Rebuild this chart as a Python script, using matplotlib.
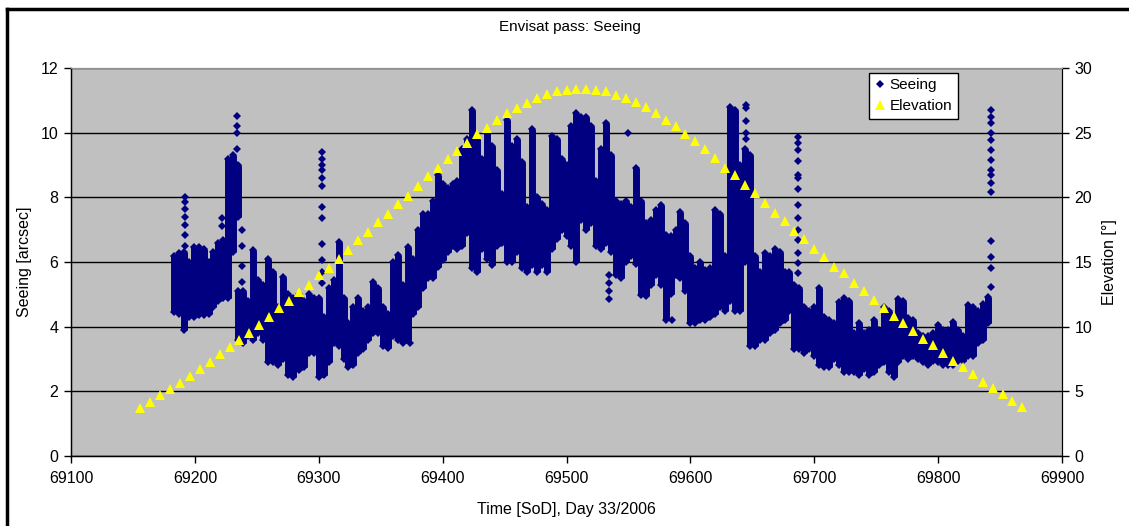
import numpy as np
import matplotlib
matplotlib.use("Agg")
import matplotlib.pyplot as plt
from matplotlib.lines import Line2D
from matplotlib.ticker import FixedLocator


# ==============================
# DATA
# ==============================

# seeing: dense vertical clusters, one (time, low, high) column per entry
seg_time = [
    69183, 69187, 69191, 69195, 69199, 69203, 69207, 69211, 69215, 69219,
    69223, 69227, 69231, 69235, 69235, 69239, 69243, 69247, 69251, 69255,
    69259, 69263, 69267, 69271, 69275, 69279, 69284, 69288, 69292, 69296,
    69300, 69304, 69308, 69312, 69316, 69320, 69324, 69328, 69332, 69336,
    69340, 69344, 69348, 69352, 69356, 69360, 69364, 69368, 69372, 69376,
    69380, 69384, 69388, 69392, 69396, 69400, 69404, 69408, 69412, 69416,
    69420, 69424, 69428, 69432, 69436, 69440, 69444, 69448, 69452, 69456,
    69460, 69464, 69468, 69472, 69476, 69480, 69484, 69488, 69492, 69496,
    69500, 69504, 69508, 69512, 69516, 69520, 69524, 69528, 69532, 69536,
    69540, 69544, 69548, 69552, 69556, 69560, 69564, 69568, 69572, 69576,
    69580, 69584, 69588, 69592, 69596, 69600, 69604, 69608, 69612, 69616,
    69620, 69624, 69628, 69632, 69636, 69640, 69644, 69648, 69652, 69656,
    69660, 69664, 69668, 69672, 69676, 69680, 69684, 69688, 69692, 69696,
    69700, 69704, 69708, 69712, 69716, 69720, 69724, 69728, 69732, 69736,
    69740, 69744, 69748, 69752, 69756, 69760, 69764, 69768, 69772, 69776,
    69780, 69784, 69788, 69792, 69796, 69800, 69804, 69808, 69812, 69816,
    69820, 69824, 69828, 69832, 69836, 69840,
]
seg_lo = [
    4.45, 4.4, 3.9, 4.3, 4.3, 4.35, 4.35, 4.4, 4.6, 4.8,
    4.9, 4.9, 6.3, 7.4, 3.6, 3.5, 3.7, 3.6, 3.8, 3.6,
    2.9, 2.9, 2.8, 3.0, 2.5, 2.45, 2.65, 2.75, 3.2, 3.2,
    2.45, 2.5, 2.9, 3.5, 3.4, 3.0, 2.75, 2.8, 3.2, 3.3,
    3.6, 3.8, 3.8, 3.4, 3.35, 3.7, 3.6, 3.5, 3.6, 4.4,
    4.6, 5.2, 5.5, 5.5, 5.85, 6.06, 6.3, 6.5, 6.4, 6.5,
    6.9, 5.8, 5.7, 6.4, 6.1, 5.9, 6.5, 6.6, 6.0, 6.0,
    6.3, 5.8, 5.7, 5.9, 5.7, 5.9, 5.7, 6.4, 6.7, 7.0,
    6.8, 6.5, 6.0, 7.3, 7.0, 7.2, 6.5, 6.4, 6.6, 6.3,
    5.6, 5.5, 6.0, 6.2, 5.95, 4.98, 4.95, 5.3, 5.6, 5.3,
    4.2, 5.0, 5.6, 5.5, 5.1, 4.1, 4.1, 4.2, 4.2, 4.3,
    4.4, 4.6, 4.5, 4.8, 4.5, 4.5, 6.0, 3.4, 3.4, 3.6,
    3.6, 3.8, 3.9, 4.1, 4.2, 4.5, 3.3, 3.3, 3.2, 3.3,
    3.1, 2.8, 2.75, 2.75, 3.0, 2.8, 2.6, 2.6, 2.6, 2.5,
    2.7, 2.5, 2.6, 2.8, 2.9, 2.6, 2.45, 2.9, 3.1, 3.0,
    3.1, 3.0, 2.9, 2.8, 2.95, 2.9, 2.8, 2.8, 2.8, 2.95,
    2.95, 3.1, 3.1, 3.5, 3.6, 4.1,
]
seg_hi = [
    6.2, 6.27, 6.3, 6.0, 6.47, 6.47, 6.4, 6.0, 6.3, 6.6,
    6.68, 9.2, 9.3, 9.0, 5.1, 5.1, 4.8, 6.37, 5.45, 5.3,
    6.1, 5.7, 4.6, 5.55, 5.0, 4.9, 5.0, 4.8, 5.0, 4.9,
    4.9, 4.3, 5.2, 5.45, 6.63, 4.9, 4.1, 4.6, 4.9, 4.5,
    4.6, 5.39, 5.2, 4.6, 4.4, 6.0, 6.22, 5.3, 6.47, 6.1,
    7.0, 7.5, 7.5, 7.9, 8.7, 8.4, 8.3, 8.4, 8.5, 9.5,
    9.8, 10.7, 9.8, 9.2, 10.0, 9.6, 8.85, 8.1, 10.4, 9.6,
    9.8, 9.1, 7.7, 10.1, 8.0, 7.8, 7.6, 9.9, 9.8, 9.2,
    9.0, 10.2, 10.6, 10.5, 10.5, 10.2, 8.5, 9.5, 10.3, 9.3,
    7.9, 7.8, 7.9, 7.7, 8.9, 7.9, 7.2, 7.3, 7.6, 7.76,
    6.85, 6.8, 7.0, 7.56, 7.2, 6.2, 5.8, 6.0, 5.75, 5.8,
    7.6, 7.5, 6.2, 10.8, 10.7, 9.0, 9.5, 9.3, 6.2, 5.7,
    6.27, 6.2, 6.39, 6.3, 5.7, 5.7, 5.3, 5.2, 4.6, 4.5,
    4.6, 5.19, 4.3, 4.2, 4.1, 4.77, 4.88, 4.8, 3.8, 4.1,
    3.8, 3.9, 4.2, 3.9, 4.6, 4.5, 4.1, 4.85, 4.8, 4.26,
    4.2, 3.8, 3.7, 3.7, 3.8, 4.05, 3.9, 3.9, 4.15, 3.9,
    3.7, 4.67, 4.6, 4.5, 4.7, 4.93,
]

# seeing: single separated diamonds (spikes)
spike_time = (
    [69192] * 7 + [69222] * 2 + [69234] * 4 + [69238] * 4 + [69303] * 12
    + [69374, 69585] + [69534] * 4 + [69550] + [69645] * 5 + [69687] * 14
    + [69843] * 15
)
spike_val = [
    8.02, 7.85, 7.65, 7.4, 7.15, 6.85, 6.5,
    7.35, 7.1,
    10.52, 10.2, 9.98, 9.5,
    7.0, 6.5, 5.88, 5.39,
    9.4, 9.2, 9.0, 8.85, 8.6, 8.35, 7.71, 7.35, 6.56, 6.07, 5.7, 5.36,
    3.49, 4.2,
    5.6, 5.35, 5.1, 4.85,
    9.98,
    10.85, 10.75, 10.35, 10.0, 9.8,
    9.88, 9.67, 9.46, 9.11, 8.69, 8.59, 8.25, 7.76, 7.35, 6.99, 6.68,
    6.29, 5.96, 5.65,
    10.7, 10.5, 10.29, 10.0, 9.77, 9.46, 9.16, 8.85, 8.69, 8.43, 8.17,
    6.65, 6.16, 5.82, 5.23,
]

# elevation: one sample every 8 s
elev_time = np.arange(69156, 69869, 8)
elev_val = [
    3.69, 4.18, 4.72, 5.16, 5.67, 6.21, 6.73, 7.29, 7.89, 8.40,
    8.97, 9.54, 10.13, 10.72, 11.42, 11.98, 12.70, 13.24, 13.97, 14.54,
    15.26, 15.93, 16.70, 17.32, 18.07, 18.73, 19.48, 20.13, 20.88, 21.63,
    22.29, 22.94, 23.61, 24.23, 24.90, 25.34, 25.98, 26.50, 26.93, 27.32,
    27.68, 27.97, 28.22, 28.32, 28.38, 28.38, 28.30, 28.20, 27.94, 27.70,
    27.39, 26.98, 26.50, 25.98, 25.52, 24.90, 24.33, 23.71, 23.02, 22.27,
    21.71, 20.93, 20.31, 19.54, 18.81, 18.17, 17.42, 16.76, 16.03, 15.41,
    14.64, 14.13, 13.40, 12.78, 12.06, 11.44, 10.83, 10.26, 9.64, 9.07,
    8.56, 7.94, 7.37, 6.86, 6.34, 5.72, 5.28, 4.79, 4.25, 3.81,
]

x_ticks = [69100, 69200, 69300, 69400, 69500, 69600, 69700, 69800, 69900]
y_ticks = [0, 2, 4, 6, 8, 10, 12]
y2_ticks = [0, 5, 10, 15, 20, 25, 30]


# ==============================
# STYLE
# ==============================

NAVY = "#000080"
YELLOW = "#FFFF00"
PLOT_BG = "#C0C0C0"
W, H = 1129, 526

plt.rcParams["font.family"] = ["Liberation Sans", "DejaVu Sans"]
plt.rcParams["font.size"] = 11.5


def fx(px):
    return px / W


def fy(py):
    return 1 - py / H


# ==============================
# PLOT
# ==============================

def main():
    fig = plt.figure(figsize=(W / 100, H / 100), dpi=100)
    fig.patch.set_facecolor("white")

    left, right, top, bottom = 71, 1062, 68, 456
    ax = fig.add_axes([fx(left), fy(bottom), fx(right - left), (bottom - top) / H])
    ax.set_facecolor(PLOT_BG)

    # seeing clusters
    ax.vlines(seg_time, seg_lo, seg_hi, colors=NAVY, linewidth=5, zorder=3)
    ax.plot(seg_time, seg_lo, "D", color=NAVY, ms=3.8, mew=0, zorder=3)
    ax.plot(seg_time, seg_hi, "D", color=NAVY, ms=3.8, mew=0, zorder=3)
    ax.plot(spike_time, spike_val, "D", color=NAVY, ms=3.8, mew=0, zorder=3)

    ax.set_xlim(69100, 69900)
    ax.set_ylim(0, 12)
    ax.xaxis.set_major_locator(FixedLocator(x_ticks))
    ax.set_xticklabels([str(t) for t in x_ticks])
    ax.set_yticks(y_ticks)
    ax.grid(axis="y", color="black", linewidth=1)
    ax.set_axisbelow(True)
    ax.tick_params(direction="out", length=5, width=1, color="black", pad=4)
    ax.tick_params(axis="x", pad=6)

    for side in ["left", "bottom"]:
        ax.spines[side].set_color("black")
        ax.spines[side].set_linewidth(1)
    ax.spines["top"].set_color("#909090")
    ax.spines["right"].set_color("black")

    ax.set_ylabel("Seeing [arcsec]", labelpad=6)
    ax.set_xlabel("Time [SoD], Day 33/2006", labelpad=11)

    # elevation on the secondary axis
    ax2 = ax.twinx()
    ax2.plot(elev_time, elev_val, "^", color=YELLOW, ms=6.5, mew=0, zorder=4)
    ax2.set_ylim(0, 30)
    ax2.set_yticks(y2_ticks)
    ax2.tick_params(direction="out", length=5, width=1, color="black", pad=4)
    ax2.spines["right"].set_color("black")
    ax2.spines["top"].set_color("#909090")
    ax2.set_ylabel("Elevation [°]", labelpad=7)

    handles = [
        Line2D([], [], ls="", marker="D", color=NAVY, ms=3.8, mew=0),
        Line2D([], [], ls="", marker="^", color=YELLOW, ms=6.5, mew=0),
    ]
    leg = ax2.legend(
        handles, ["Seeing", "Elevation"],
        loc="upper left", bbox_to_anchor=(fx(869), fy(73)),
        bbox_transform=fig.transFigure, borderaxespad=0,
        fancybox=False, framealpha=1, edgecolor="black",
        borderpad=0.35, handlelength=0.7, handletextpad=0.3,
        labelspacing=0.45, fontsize=11,
    )
    leg.get_frame().set_linewidth(1)
    leg.set_zorder(10)

    fig.text(fx(570), fy(27), "Envisat pass: Seeing", ha="center", va="center", fontsize=11)

    # outer chart border
    fig.add_artist(Line2D([fx(7), fx(7)], [fy(9), 0], color="black", lw=2.5))
    fig.add_artist(Line2D([fx(7), 1], [fy(9), fy(9)], color="black", lw=2.5))

    fig.savefig("out.png", dpi=100)


if __name__ == "__main__":
    main()
